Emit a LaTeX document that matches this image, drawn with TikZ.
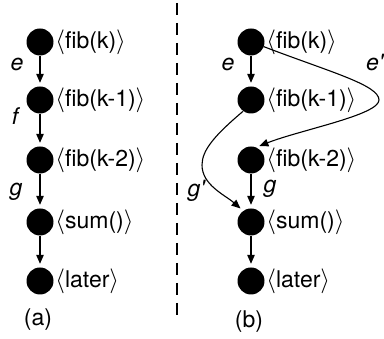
\documentclass[tikz,border=0pt]{standalone}
\usepackage{fontspec}
\setmainfont{TeX Gyre Heros}
\usetikzlibrary{arrows.meta,positioning}
\newcommand{\lab}[1]{$\langle$#1$\rangle$}
\newcommand{\prm}{\textquotesingle}
\begin{document}
\begin{tikzpicture}[x=1pt,y=-1pt,
  every node/.style={font=\fontsize{23}{27}\selectfont},
  dot/.style={circle,fill=black,minimum size=27pt,inner sep=0pt},
  lbl/.style={inner sep=0pt,anchor=west},
  elab/.style={inner sep=0pt,anchor=base,font=\fontsize{23}{27}\selectfont\itshape},
  arr/.style={line width=1.1pt,-{Triangle[length=9pt,width=7.5pt]},shorten >=3.5pt},
  sep/.style={line width=2pt,dash pattern=on 12pt off 8pt}]
\useasboundingbox (0,0) rectangle (384,339);
% (a)
\node[dot] (a1) at (40,42) {};
\node[dot] (a2) at (40,100) {};
\node[dot] (a3) at (40,160) {};
\node[dot] (a4) at (40,222) {};
\node[dot] (a5) at (40,281) {};
\node[lbl,right=1.5pt of a1] (la1) {\lab{fib(k)}};
\node[lbl,right=1.5pt of a2] (la2) {\lab{fib(k-1)}};
\node[lbl,right=1.5pt of a3] (la3) {\lab{fib(k-2)}};
\node[lbl,right=1.5pt of a4] (la4) {\lab{sum()}};
\node[lbl,right=1.5pt of a5] (la5) {\lab{later}};
\draw[arr] (a1) -- (a2);
\draw[arr] (a2) -- (a3);
\draw[arr] (a3) -- (a4);
\draw[arr] (a4) -- (a5);
\node[elab] (ea) at (17,71) {e};
\node[elab] (fa) at (15,125) {f};
\node[elab] (ga) at (16,196) {g};
\node (capa) at (38,320) {(a)};
% separator
\coordinate (s1) at (177,3);
\coordinate (s2) at (177,320);
\draw[sep] (s1) -- (s2);
% (b)
\node[dot] (b1) at (251,42) {};
\node[dot] (b2) at (251,100) {};
\node[dot] (b3) at (251,160) {};
\node[dot] (b4) at (251,222) {};
\node[dot] (b5) at (251,281) {};
\node[lbl,right=1.5pt of b1] (lb1) {\lab{fib(k)}};
\node[lbl,right=1.5pt of b2] (lb2) {\lab{fib(k-1)}};
\node[lbl,right=1.5pt of b3] (lb3) {\lab{fib(k-2)}};
\node[lbl,right=1.5pt of b4] (lb4) {\lab{sum()}};
\node[lbl,right=1.5pt of b5] (lb5) {\lab{later}};
\draw[arr] (b1) -- (b2);
\draw[arr] (b3) -- (b4);
\draw[arr] (b4) -- (b5);
\draw[arr] (b1.-20) .. controls (330,72) and (379,85) .. (379,100)
  .. controls (379,115) and (300,130) .. (b3.68);
\draw[arr] (b2.-125) .. controls (215,135) and (202,150) .. (202,165)
  .. controls (202,185) and (225,195) .. (b4.125);
\node[elab] (eb) at (228,71) {e};
\node[elab,anchor=base west] (epb) at (366,71) {e\prm};
\node[elab] (gb) at (270,193) {g};
\node[elab,anchor=base east] (gpb) at (205,197) {g\prm};
\node (capb) at (249,322) {(b)};
\end{tikzpicture}
\end{document}
